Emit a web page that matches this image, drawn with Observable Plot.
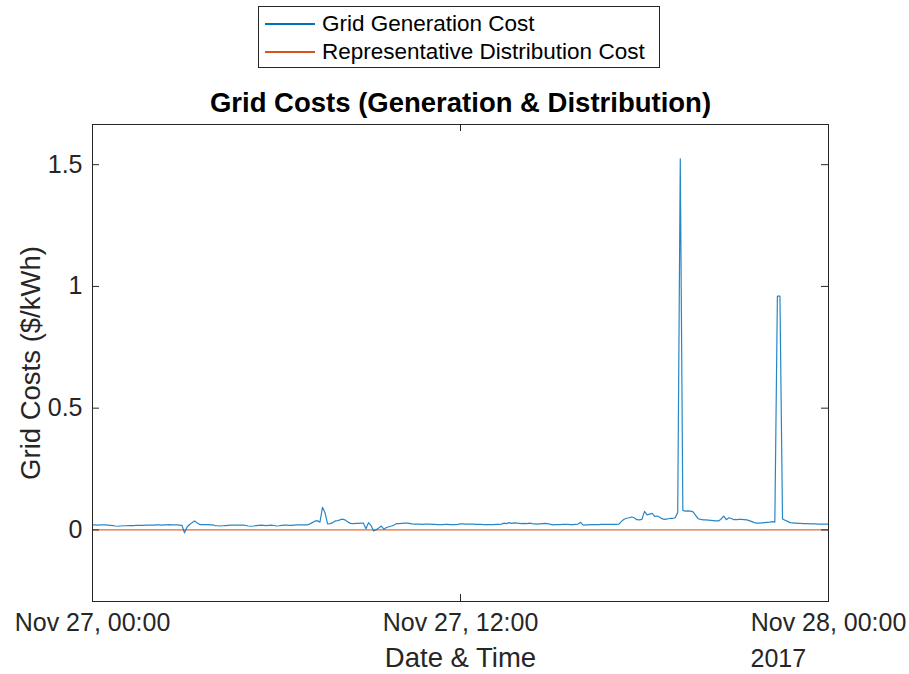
<!DOCTYPE html>
<html><head><meta charset="utf-8">
<script src="https://cdn.jsdelivr.net/npm/d3@7"></script>
<script src="https://cdn.jsdelivr.net/npm/@observablehq/plot@0.6"></script>
<style>
body{margin:0;background:#fff;font-family:"Liberation Sans",Arial,sans-serif;}
#wrap{position:relative;width:909px;height:674px;overflow:hidden;}
#chart{position:absolute;left:0;top:0;}
#legend{position:absolute;left:258px;top:6px;width:402px;height:62px;border:1px solid #262626;box-sizing:border-box;background:#fff;}
.row{position:absolute;left:0;height:28px;display:flex;align-items:center;font-size:22.5px;color:#000;white-space:nowrap;}
.sw{display:inline-block;width:50px;height:1.5px;margin-left:6px;margin-right:7px;}
</style></head>
<body><div id="wrap"><div id="chart"></div><div id="legend"></div></div>
<script>
// ---- data ----
const seriesNames = ["Grid Generation Cost", "Representative Distribution Cost"];
const seriesColors = ["#0072BD", "#D95319"];
const startTime = "2017-11-27T00:00:00Z";
const endTime = "2017-11-28T00:00:00Z";
const stepMinutes = 5;
// Grid generation cost ($/kWh), 5-minute samples from Nov 27 00:00 to Nov 28 00:00
const genCost = [
  0.021,0.021,0.020,0.021,0.021,0.021,0.020,0.019,0.018,0.016,0.015,0.016,
  0.017,0.017,0.018,0.018,0.018,0.019,0.019,0.019,0.019,0.020,0.020,0.020,
  0.020,0.021,0.021,0.020,0.021,0.021,0.022,0.021,0.021,0.021,0.020,0.019,
  -0.012,0.012,0.022,0.030,0.037,0.028,0.022,0.022,0.022,0.022,0.021,0.021,
  0.018,0.017,0.016,0.017,0.018,0.019,0.020,0.020,0.020,0.020,0.020,0.020,
  0.018,0.016,0.015,0.016,0.018,0.019,0.020,0.019,0.018,0.019,0.020,0.018,
  0.016,0.017,0.019,0.020,0.020,0.019,0.019,0.020,0.021,0.021,0.021,0.021,
  0.021,0.024,0.030,0.036,0.038,0.032,0.093,0.070,0.025,0.026,0.030,0.037,
  0.038,0.042,0.044,0.040,0.032,0.027,0.026,0.027,0.027,0.028,0.028,0.005,
  0.030,0.018,-0.004,0.001,0.008,0.016,0.003,0.010,0.013,0.016,0.020,0.026,
  0.026,0.027,0.028,0.028,0.027,0.025,0.024,0.024,0.024,0.023,0.024,0.024,
  0.024,0.023,0.023,0.022,0.022,0.022,0.023,0.023,0.022,0.022,0.022,0.023,
  0.025,0.025,0.024,0.024,0.024,0.024,0.023,0.023,0.023,0.022,0.022,0.022,
  0.022,0.022,0.023,0.023,0.024,0.028,0.026,0.030,0.027,0.029,0.028,0.027,
  0.026,0.027,0.026,0.028,0.026,0.025,0.024,0.025,0.026,0.027,0.026,0.024,
  0.021,0.022,0.022,0.022,0.023,0.023,0.023,0.022,0.022,0.023,0.024,0.031,
  0.020,0.021,0.021,0.022,0.022,0.022,0.022,0.023,0.023,0.023,0.023,0.023,
  0.023,0.023,0.024,0.035,0.044,0.048,0.050,0.053,0.050,0.042,0.041,0.043,
  0.076,0.062,0.065,0.068,0.056,0.057,0.052,0.045,0.043,0.045,0.048,0.047,
  0.050,0.072,1.524,0.080,0.077,0.078,0.077,0.074,0.060,0.046,0.043,0.041,
  0.041,0.040,0.039,0.038,0.037,0.037,0.045,0.057,0.042,0.050,0.047,0.042,
  0.042,0.043,0.043,0.042,0.041,0.038,0.034,0.030,0.028,0.028,0.029,0.030,
  0.031,0.032,0.034,0.032,0.960,0.960,0.045,0.040,0.035,0.030,0.029,0.028,
  0.027,0.027,0.026,0.026,0.026,0.025,0.025,0.025,0.024,0.024,0.024,0.024,
  0.024
];
// Representative distribution cost ($/kWh)
const distTimes = ["2017-11-27T00:00:00Z", "2017-11-28T00:00:00Z"];
const distCost = [0, 0];
const yTicks = [0, 0.5, 1, 1.5];
const yTickLabels = ["0", "0.5", "1", "1.5"];
const xTickTimes = ["2017-11-27T00:00:00Z", "2017-11-27T12:00:00Z", "2017-11-28T00:00:00Z"];
const xTickLabels = ["Nov 27, 00:00", "Nov 27, 12:00", "Nov 28, 00:00"];
const yDomain = [-0.294, 1.665];
const titleText = "Grid Costs (Generation & Distribution)";
const yLabel = "Grid Costs ($/kWh)";
const xLabel = "Date & Time";
const yearLabel = "2017";

// ---- build ----
const t0 = new Date(startTime);
const gen = genCost.map((v, i) => ({t: new Date(+t0 + i * stepMinutes * 60000), v}));
const dist = distCost.map((v, i) => ({t: new Date(distTimes[i]), v}));
const xTicks = xTickTimes.map(s => new Date(s));

const W = 909, H = 674, mL = 92, mR = 81, mT = 124, mB = 73;
const innerW = W - mL - mR, innerH = H - mT - mB;
const ink = "#262626";
const font = "'Liberation Sans', Arial, Helvetica, sans-serif";

const chart = Plot.plot({
  width: W, height: H,
  marginLeft: mL, marginRight: mR, marginTop: mT, marginBottom: mB,
  style: {fontFamily: font, color: ink, background: "white", overflow: "visible"},
  x: {type: "utc", domain: [new Date(startTime), new Date(endTime)]},
  y: {domain: yDomain},
  marks: [
    Plot.lineY(dist, {x: "t", y: "v", stroke: seriesColors[1], strokeWidth: 1.2, strokeOpacity: 0.85}),
    Plot.lineY(gen, {x: "t", y: "v", stroke: seriesColors[0], strokeWidth: 1.2, strokeOpacity: 0.85}),
    Plot.frame({stroke: ink, strokeWidth: 1}),
    Plot.tickY(yTicks, {y: d => d, insetRight: innerW - 7, stroke: ink}),
    Plot.tickY(yTicks, {y: d => d, insetLeft: innerW - 7, stroke: ink}),
    Plot.tickX(xTicks, {x: d => d, insetTop: innerH - 7, stroke: ink}),
    Plot.tickX(xTicks, {x: d => d, insetBottom: innerH - 7, stroke: ink}),
    Plot.axisY(yTicks, {tickSize: 0, tickPadding: 10, fontSize: 25, label: null,
      tickFormat: d => yTickLabels[yTicks.indexOf(d)], fill: ink}),
    Plot.axisX(xTicks, {tickSize: 0, tickPadding: 12, fontSize: 25, label: null,
      tickFormat: d => xTickLabels[xTicks.findIndex(t => +t === +d)], fill: ink}),
    Plot.text([titleText], {frameAnchor: "top", dy: -21, lineAnchor: "middle", fontSize: 27.5, fontWeight: "bold", fill: "#000"}),
    Plot.text([yLabel], {frameAnchor: "left", dx: -61, rotate: -90, lineAnchor: "middle", textAnchor: "middle", fontSize: 27.5, fill: ink}),
    Plot.text([xLabel], {frameAnchor: "bottom", dy: 57, lineAnchor: "middle", fontSize: 27.5, fill: ink}),
    Plot.text([yearLabel], {frameAnchor: "bottom-right", dx: -78, dy: 57, lineAnchor: "middle", textAnchor: "start", fontSize: 25, fill: ink})
  ]
});
document.getElementById("chart").appendChild(chart);

const legend = document.getElementById("legend");
seriesNames.forEach((name, i) => {
  const row = document.createElement("div");
  row.className = "row";
  row.style.top = (i === 0 ? 3 : 31) + "px";
  const sw = document.createElement("span");
  sw.className = "sw";
  sw.style.background = seriesColors[i];
  const lab = document.createElement("span");
  lab.textContent = name;
  row.appendChild(sw); row.appendChild(lab);
  legend.appendChild(row);
});
</script>
</body></html>
